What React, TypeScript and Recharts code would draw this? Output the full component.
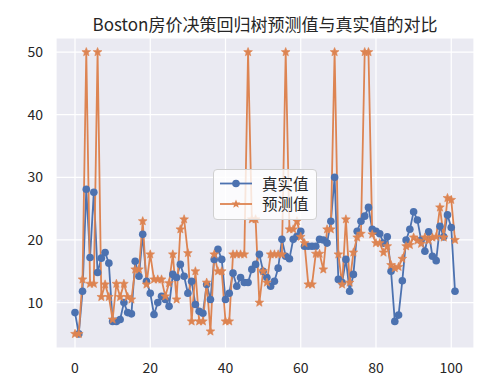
import { LineChart, Line, XAxis, YAxis, CartesianGrid, Legend } from 'recharts';

const BLUE = '#4C72B0';
const ORANGE = '#DD8452';
const FONT = '"Noto Sans CJK SC", "DejaVu Sans", sans-serif';

const TITLE = 'Boston房价决策回归树预测值与真实值的对比';
const SERIES_NAMES = ['真实值', '预测值'];

const xTicks = [0, 20, 40, 60, 80, 100];
const yTicks = [10, 20, 30, 40, 50];

// 真实值
const actual = [
  8.4, 5.0, 11.8, 28.1, 17.2, 27.6, 14.8, 17.1, 18.0, 16.3,
  7.0, 7.0, 7.3, 10.0, 8.4, 8.2, 16.6, 14.2, 20.9, 13.4,
  11.5, 8.1, 10.0, 11.0, 10.5, 9.4, 14.5, 14.0, 16.1, 14.2,
  11.5, 13.4, 9.7, 8.6, 8.3, 12.9, 10.5, 16.9, 18.5, 16.9,
  10.5, 11.5, 14.7, 12.6, 14.0, 13.2, 13.2, 15.3, 16.1, 17.7,
  15.0, 14.0, 12.6, 13.4, 15.5, 20.1, 17.4, 17.0, 20.1, 20.6,
  21.4, 19.0, 19.0, 19.0, 19.0, 20.1, 20.0, 19.5, 23.0, 30.0,
  13.7, 13.2, 16.9, 11.8, 14.5, 21.4, 23.0, 23.8, 25.2, 21.7,
  21.4, 21.0, 19.5, 20.5, 15.0, 7.0, 8.0, 13.5, 20.0, 21.7,
  24.5, 23.2, 20.0, 18.2, 21.3, 17.4, 16.7, 22.2, 20.5, 24.0,
  22.0, 11.8,
];

// 预测值
const predicted = [
  5.0, 5.0, 13.7, 50.0, 13.0, 13.0, 50.0, 10.9, 12.9, 10.9,
  7.3, 13.0, 10.9, 13.0, 10.9, 10.5, 15.3, 15.3, 23.0, 12.9,
  17.7, 13.7, 13.7, 13.7, 11.0, 13.1, 17.7, 10.5, 21.7, 23.3,
  17.9, 7.0, 15.0, 7.0, 7.0, 13.2, 5.4, 17.7, 15.0, 15.0,
  7.0, 7.0, 17.7, 17.7, 17.7, 17.7, 50.0, 23.3, 23.3, 10.0,
  15.0, 13.2, 17.7, 17.7, 17.7, 17.7, 50.0, 21.7, 21.7, 23.0,
  20.5, 19.5, 12.9, 12.9, 17.8, 17.8, 15.3, 21.7, 21.7, 50.0,
  17.7, 12.9, 23.3, 13.2, 18.0, 20.4, 21.0, 50.0, 50.0, 20.9,
  19.5, 19.5, 18.0, 19.0, 16.0, 15.5, 15.7, 17.0, 19.0, 19.2,
  20.4, 19.9, 19.4, 20.4, 19.9, 20.4, 20.5, 25.2, 20.4, 26.7,
  26.4, 20.0,
];

const data = actual.map((v, i) => ({ idx: i, actual: v, predicted: predicted[i] }));

function starPoints(cx: number, cy: number, R: number, r: number) {
  const pts: string[] = [];
  for (let k = 0; k < 10; k++) {
    const a = -Math.PI / 2 + (k * Math.PI) / 5;
    const rad = k % 2 === 0 ? R : r;
    pts.push(`${cx + rad * Math.cos(a)},${cy + rad * Math.sin(a)}`);
  }
  return pts.join(' ');
}

function StarDot(props: any) {
  const { cx, cy, index } = props;
  if (cx == null || cy == null) return null;
  return <polygon key={index} points={starPoints(cx, cy, 4.6, 2)} fill={ORANGE} stroke={ORANGE} strokeWidth={0.6} />;
}

function LegendBox() {
  return (
    <div
      style={{
        width: 104,
        height: 51,
        boxSizing: 'border-box',
        background: 'rgba(255,255,255,0.8)',
        border: '1px solid #d0d0d0',
        borderRadius: 4,
        position: 'relative',
        fontFamily: FONT,
        fontSize: 15.5,
        color: '#262626',
      }}
    >
      <svg width={40} height={51} style={{ position: 'absolute', left: 0, top: 0 }}>
        <line x1={6} y1={13.5} x2={38} y2={13.5} stroke={BLUE} strokeWidth={1.8} />
        <circle cx={22} cy={13.5} r={3.8} fill={BLUE} />
        <line x1={6} y1={34} x2={38} y2={34} stroke={ORANGE} strokeWidth={1.8} />
        <polygon points={starPoints(22, 34, 4.6, 2)} fill={ORANGE} />
      </svg>
      <span style={{ position: 'absolute', left: 48, top: 13.5, transform: 'translateY(-52%)', lineHeight: 1 }}>{SERIES_NAMES[0]}</span>
      <span style={{ position: 'absolute', left: 48, top: 34, transform: 'translateY(-52%)', lineHeight: 1 }}>{SERIES_NAMES[1]}</span>
    </div>
  );
}

export default function App() {
  const tickStyle = { fill: '#262626', fontSize: 14, fontFamily: FONT };
  return (
    <div style={{ position: 'absolute', left: 0, top: 0, width: 500, height: 385, background: '#fff' }}>
      <div
        style={{
          position: 'absolute',
          left: 56,
          width: 418,
          top: 13,
          textAlign: 'center',
          fontFamily: FONT,
          fontSize: 17,
          lineHeight: '22px',
          color: '#262626',
        }}
      >
        {TITLE}
      </div>
      <LineChart width={500} height={385} data={data} margin={{ top: 38, right: 26, bottom: 0, left: 0 }}>
        <CartesianGrid fill="#EAEAF2" stroke="#ffffff" strokeWidth={1.2} strokeDasharray="" />
        <XAxis
          type="number"
          dataKey="idx"
          domain={[-5.05, 106.05]}
          ticks={xTicks}
          allowDataOverflow
          axisLine={false}
          tickLine={false}
          tickMargin={9}
          height={37}
          tick={tickStyle}
        />
        <YAxis
          type="number"
          domain={[2.75, 52.25]}
          ticks={yTicks}
          allowDataOverflow
          axisLine={false}
          tickLine={false}
          tickMargin={7}
          width={56}
          tick={tickStyle}
        />
        <Legend
          verticalAlign="middle"
          align="center"
          layout="horizontal"
          content={() => <LegendBox />}
          wrapperStyle={{ left: 213, top: 169, width: 104, height: 51 }}
        />
        <Line
          type="linear"
          dataKey="actual"
          name={SERIES_NAMES[0]}
          stroke={BLUE}
          strokeWidth={1.8}
          dot={{ r: 3.8, fill: BLUE, stroke: BLUE, strokeWidth: 0 }}
          activeDot={false}
          isAnimationActive={false}
        />
        <Line
          type="linear"
          dataKey="predicted"
          name={SERIES_NAMES[1]}
          stroke={ORANGE}
          strokeWidth={1.8}
          dot={<StarDot />}
          activeDot={false}
          isAnimationActive={false}
        />
      </LineChart>
    </div>
  );
}
